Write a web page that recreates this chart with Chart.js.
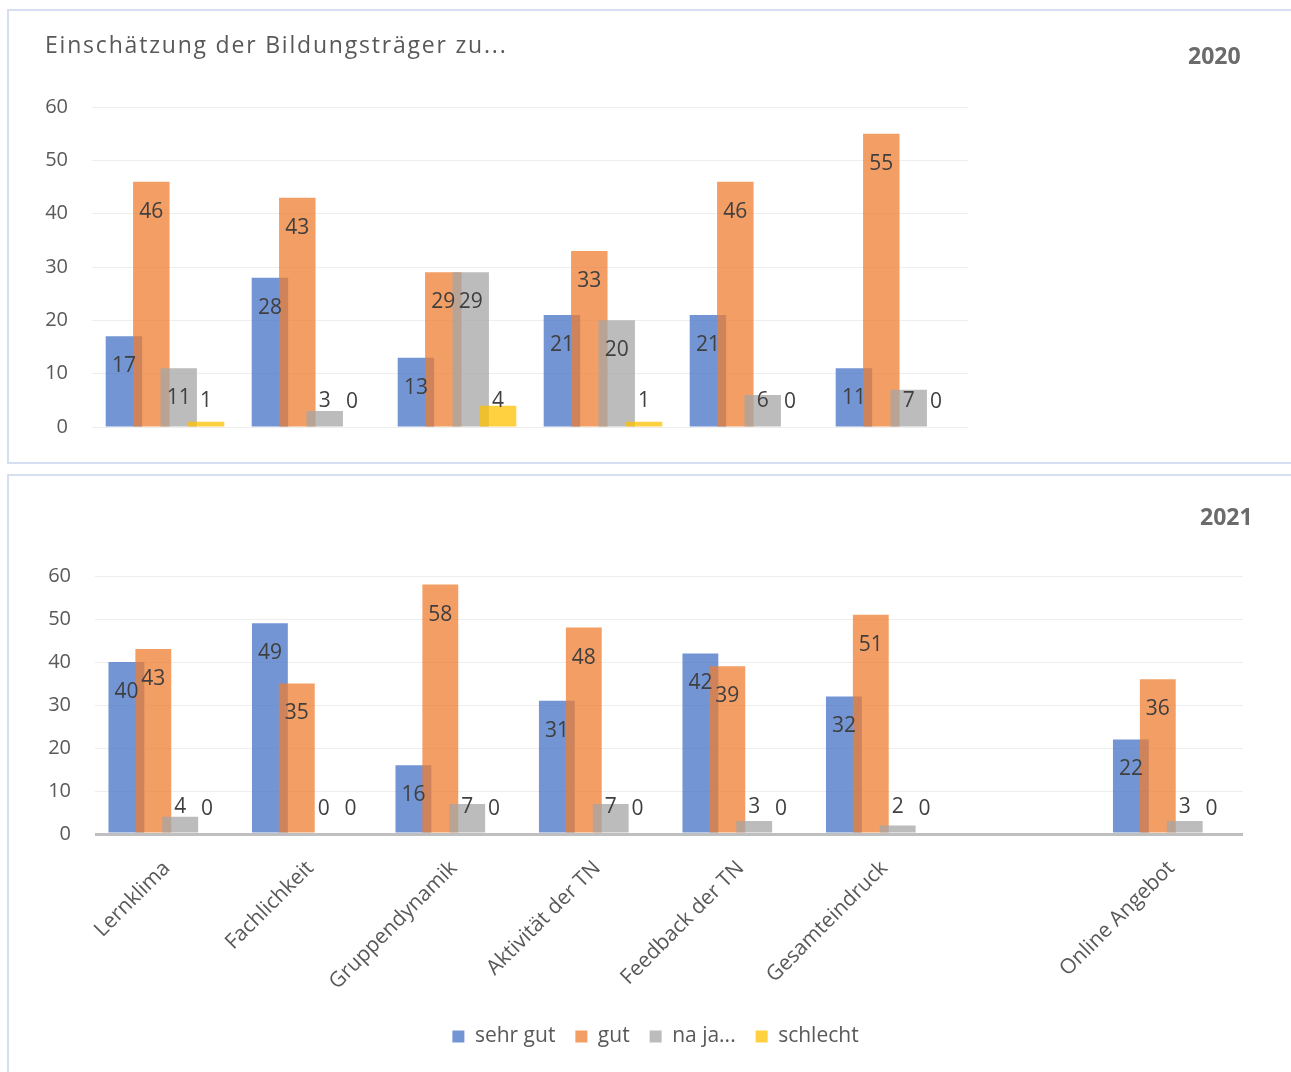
<!DOCTYPE html>
<html lang="de">
<head>
<meta charset="utf-8">
<title>Einschätzung der Bildungsträger</title>
<script src="https://cdn.jsdelivr.net/npm/chart.js@4.4.1/dist/chart.umd.min.js"></script>
<style>
  html, body { margin: 0; padding: 0; background: #ffffff; }
  body { width: 1291px; height: 1072px; position: relative; overflow: hidden; font-family: "Open Sans", sans-serif; }
  .panel { position: absolute; left: 7px; width: 1300px; border: 2px solid #d6dff1; box-sizing: border-box; background: #fff; }
  #panel2020 { top: 9px; height: 455px; }
  #panel2021 { top: 474px; height: 700px; }
  canvas { position: absolute; left: 0; }
  #c2020 { top: 0; }
  #c2021 { top: 474px; }
  .title { position: absolute; left: 45px; top: 29px; font-size: 23px; letter-spacing: 1.8px; color: #595959; line-height: 30px; white-space: nowrap; }
  .year { position: absolute; font-size: 23px; font-weight: 700; color: #6b6b6b; line-height: 30px; }
  #y2020 { left: 1188px; top: 40px; }
  #y2021 { left: 1200px; top: 501px; }
</style>
</head>
<body>
<div class="panel" id="panel2020"></div>
<div class="panel" id="panel2021"></div>
<canvas id="c2020" width="1291" height="470"></canvas>
<canvas id="c2021" width="1291" height="598"></canvas>
<div class="title">Einschätzung der Bildungsträger zu...</div>
<div class="year" id="y2020">2020</div>
<div class="year" id="y2021">2021</div>
<script>
// Rating categories and answer counts per year
const categories2020 = ['Lernklima', 'Fachlichkeit', 'Gruppendynamik', 'Aktivität der TN', 'Feedback der TN', 'Gesamteindruck'];
const sehrGut2020 = [17, 28, 13, 21, 21, 11];
const gut2020 = [46, 43, 29, 33, 46, 55];
const naJa2020 = [11, 3, 29, 20, 6, 7];
const schlecht2020 = [1, 0, 4, 1, 0, 0];

const categories2021 = ['Lernklima', 'Fachlichkeit', 'Gruppendynamik', 'Aktivität der TN', 'Feedback der TN', 'Gesamteindruck', '', 'Online Angebot'];
const sehrGut2021 = [40, 49, 16, 31, 42, 32, null, 22];
const gut2021 = [43, 35, 58, 48, 39, 51, null, 36];
const naJa2021 = [4, 0, 7, 7, 3, 2, null, 3];
const schlecht2021 = [0, 0, 0, 0, 0, 0, null, 0];

const seriesNames = ['sehr gut', 'gut', 'na ja...', 'schlecht'];
const seriesColors = ['rgba(68,114,196,0.75)', 'rgba(237,125,49,0.75)', 'rgba(165,165,165,0.75)', 'rgba(255,192,0,0.75)'];
const yMin = 0, yMax = 60, yStep = 10;

const FONT = '"Open Sans", sans-serif';

// Draw the series in their natural order so later bars overlap earlier ones,
// then put the value labels on top.
const seriesOnTop = {
  id: 'seriesOnTop',
  beforeDatasetsDraw(chart) {
    chart.getSortedVisibleDatasetMetas().forEach(m => m.controller.draw());
    const ctx = chart.ctx;
    ctx.save();
    ctx.font = '21px ' + FONT;
    ctx.fillStyle = '#3f3f3f';
    ctx.textAlign = 'center';
    ctx.textBaseline = 'middle';
    chart.data.datasets.forEach((ds, di) => {
      const meta = chart.getDatasetMeta(di);
      meta.data.forEach((bar, i) => {
        const v = ds.data[i];
        if (v === null || v === undefined) return;
        const y = Math.min(bar.y + 30, bar.base - 25);
        ctx.fillText(String(v), bar.x, y);
      });
    });
    ctx.restore();
    return false;
  }
};

// Centre the legend under the whole panel rather than under the plot box.
const legendShift = {
  id: 'legendShift',
  afterLayout(chart) {
    const lg = chart.legend;
    if (lg) { lg.left += 34; lg.right += 34; }
  }
};

function makeDatasets(values) {
  return values.map((data, i) => ({
    label: seriesNames[i],
    data: data,
    backgroundColor: seriesColors[i],
    borderWidth: 0,
    categoryPercentage: 0.75,
    barPercentage: 1.333
  }));
}

function yScale(axisWidth, zeroColor, zeroWidth) {
  return {
    min: yMin, max: yMax,
    border: { display: false },
    grid: {
      drawTicks: false,
      color: c => (c.tick && c.tick.value === 0) ? zeroColor : '#eeeeee',
      lineWidth: c => (c.tick && c.tick.value === 0) ? zeroWidth : 1
    },
    ticks: { stepSize: yStep, padding: 24, color: '#595959', font: { family: FONT, size: 20 } },
    afterFit(scale) { scale.width = axisWidth; }
  };
}

new Chart(document.getElementById('c2020'), {
  type: 'bar',
  data: { labels: categories2020, datasets: makeDatasets([sehrGut2020, gut2020, naJa2020, schlecht2020]) },
  options: {
    responsive: false,
    animation: false,
    layout: { padding: { left: 0, top: 107, right: 323, bottom: 43 } },
    plugins: { legend: { display: false }, tooltip: { enabled: false } },
    scales: {
      x: { display: false },
      y: yScale(92, '#eeeeee', 1)
    }
  },
  plugins: [seriesOnTop]
});

new Chart(document.getElementById('c2021'), {
  type: 'bar',
  data: { labels: categories2021, datasets: makeDatasets([sehrGut2021, gut2021, naJa2021, schlecht2021]) },
  options: {
    responsive: false,
    animation: false,
    layout: { padding: { left: 0, top: 102, right: 48, bottom: 15 } },
    plugins: {
      tooltip: { enabled: false },
      legend: {
        position: 'bottom',
        labels: { boxWidth: 12, boxHeight: 12, padding: 20, color: '#595959', font: { family: FONT, size: 21 } }
      }
    },
    scales: {
      x: {
        border: { display: false },
        grid: { display: false, drawTicks: false },
        ticks: { autoSkip: false, minRotation: 45, maxRotation: 45, padding: 22, color: '#595959', font: { family: FONT, size: 21 } },
        afterFit(scale) { scale.height = 172; }
      },
      y: yScale(95, '#bfbfbf', 3)
    }
  },
  plugins: [seriesOnTop, legendShift]
});
</script>
</body>
</html>
